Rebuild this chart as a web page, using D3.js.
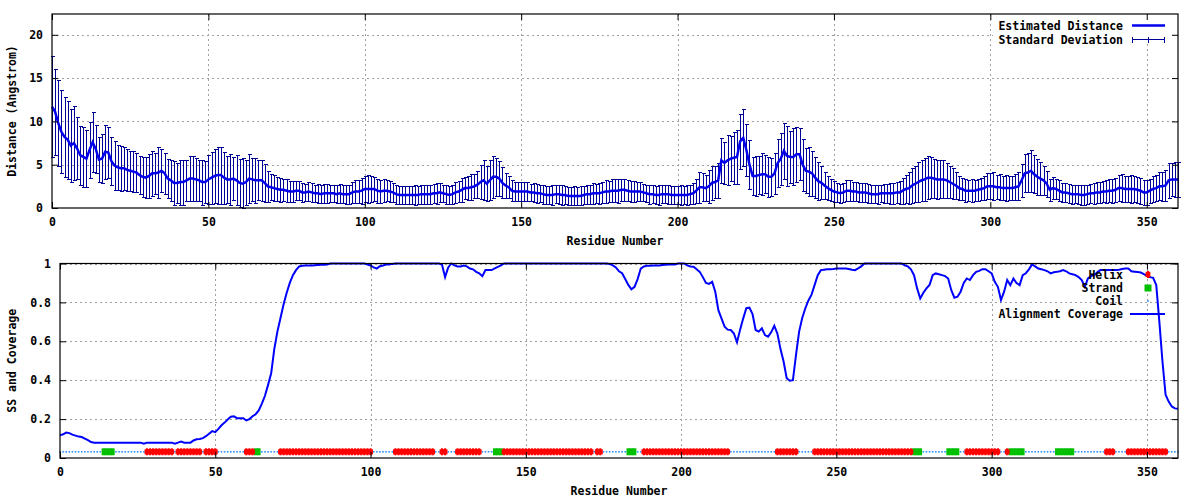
<!DOCTYPE html>
<html>
<head>
<meta charset="utf-8">
<script src="https://d3js.org/d3.v7.min.js"></script>
<style>
body { margin: 0; background: #fff; }
svg text { font-family: "DejaVu Sans Mono", "Liberation Mono", monospace; font-weight: bold; font-size: 11.5px; fill: #000; }
</style>
</head>
<body>
<svg width="1200" height="500"></svg>
<script>
// residue 0..360, mean predicted distance (Angstrom)
var distMean = [
11.7,11.1,9.8,8.8,8.2,7.9,7.2,7.5,6.9,6.1,
5.9,5.7,6.7,7.6,6.8,5.6,5.7,6.5,6.4,5.4,
4.9,4.7,4.6,4.6,4.4,4.3,4.2,4.1,3.8,3.6,
3.5,3.7,4.0,4.0,4.1,4.3,4.0,3.4,3.2,2.9,
2.9,3.0,3.0,3.2,3.4,3.4,3.3,3.2,3.0,3.0,
3.3,3.5,3.7,3.8,3.8,3.5,3.3,3.3,3.4,3.2,
2.9,2.8,3.0,3.4,3.3,3.2,3.2,3.2,2.9,2.5,
2.4,2.3,2.2,2.1,2.1,2.0,1.9,1.9,2.0,2.0,
1.8,1.8,1.9,1.8,1.7,1.7,1.6,1.7,1.7,1.7,
1.7,1.6,1.7,1.6,1.6,1.6,1.8,1.9,1.9,2.0,
2.2,2.2,2.2,2.2,2.0,1.9,2.0,2.0,1.9,1.8,
1.6,1.5,1.5,1.5,1.5,1.5,1.5,1.5,1.6,1.6,
1.6,1.6,1.7,1.7,1.8,1.7,1.6,1.5,1.6,1.8,
1.9,2.1,2.3,2.3,2.4,2.5,2.7,3.0,3.2,2.8,
3.2,3.6,3.6,3.4,2.9,2.6,2.4,2.0,1.9,1.9,
1.9,1.9,1.9,1.8,1.8,1.7,1.7,1.6,1.5,1.5,
1.5,1.6,1.6,1.5,1.5,1.4,1.4,1.4,1.4,1.4,
1.5,1.6,1.6,1.7,1.7,1.7,1.8,1.9,1.9,2.0,
2.0,2.0,2.1,2.1,2.0,1.9,1.9,1.9,1.9,1.8,
1.7,1.6,1.6,1.5,1.5,1.6,1.6,1.6,1.5,1.5,
1.5,1.5,1.5,1.5,1.6,1.7,2.0,2.4,2.4,2.3,
2.5,2.9,3.0,3.2,5.5,5.2,5.5,5.7,5.8,5.9,
7.7,8.1,6.7,5.0,3.7,3.7,3.8,3.9,3.9,3.6,
3.6,4.0,5.2,5.7,6.6,6.0,5.9,5.9,6.2,6.2,
5.0,4.3,4.2,4.0,3.5,3.1,2.9,2.6,2.3,2.1,
1.9,1.8,1.7,1.8,2.0,2.0,1.9,1.9,1.8,1.8,
1.8,1.7,1.6,1.6,1.6,1.7,1.7,1.7,1.7,1.7,
1.8,1.8,2.0,2.2,2.3,2.6,2.8,3.0,3.2,3.3,
3.5,3.5,3.4,3.3,3.3,3.3,3.2,3.0,2.8,2.6,
2.3,2.2,2.0,2.0,2.0,2.0,2.1,2.2,2.3,2.5,
2.5,2.5,2.4,2.4,2.3,2.3,2.3,2.3,2.4,2.5,
3.2,4.0,4.1,4.3,3.9,3.6,3.4,3.2,2.8,2.1,
2.3,2.2,2.0,1.8,1.8,1.7,1.6,1.6,1.6,1.5,
1.5,1.6,1.7,1.7,1.8,1.8,1.9,1.9,2.0,2.0,
2.1,2.3,2.3,2.2,2.2,2.2,2.2,2.1,2.0,1.8,
1.8,2.0,2.2,2.3,2.5,2.5,2.6,3.2,3.3,3.3,
3.3];

// standard deviation per residue
var distSd = [
5.8,5.0,5.0,4.8,4.6,4.5,4.2,4.3,3.6,3.4,
3.5,3.3,3.2,3.5,2.8,2.6,2.8,3.1,2.9,2.8,
2.8,2.6,2.6,2.5,2.4,2.3,2.4,2.3,2.2,2.3,
2.4,2.5,2.6,2.4,2.9,2.5,2.4,2.3,2.4,2.5,
2.3,2.6,2.6,2.4,2.6,2.6,2.5,2.4,2.6,2.4,
2.8,3.0,3.1,3.3,3.3,3.0,2.7,2.9,2.5,2.9,
2.8,3.0,2.6,2.8,2.5,2.6,2.3,2.4,2.2,1.8,
1.5,1.5,1.4,1.4,1.3,1.3,1.2,1.2,1.1,1.1,
1.1,1.0,1.1,1.1,1.0,1.1,1.0,1.1,1.1,1.0,
1.0,1.0,1.1,1.0,1.1,1.1,1.2,1.3,1.3,1.5,
1.5,1.6,1.5,1.4,1.4,1.3,1.3,1.2,1.2,1.1,
1.1,1.0,1.0,1.0,1.0,1.0,1.1,1.0,1.1,1.1,
1.1,1.1,1.1,1.2,1.1,1.0,1.1,1.0,1.1,1.2,
1.2,1.4,1.3,1.4,1.5,1.4,1.6,2.0,2.3,2.0,
2.3,2.4,2.2,2.0,1.8,1.4,1.3,1.2,1.1,1.1,
1.1,1.1,1.1,1.0,1.1,1.1,1.0,1.1,1.0,1.0,
1.1,1.0,1.1,1.1,1.0,1.0,1.0,1.1,1.0,1.1,
1.0,1.1,1.1,1.2,1.1,1.2,1.2,1.3,1.2,1.3,
1.3,1.4,1.3,1.3,1.2,1.2,1.2,1.1,1.1,1.0,
1.0,1.1,1.0,1.0,1.1,1.0,1.0,1.1,1.0,1.0,
1.0,1.1,1.0,1.1,1.1,1.2,1.4,1.8,1.6,1.5,
1.9,2.0,1.9,2.0,2.6,2.4,2.9,2.6,3.0,3.1,
3.2,3.3,3.0,2.8,2.2,2.3,2.2,2.4,2.2,2.3,
2.2,2.4,2.8,3.0,3.2,3.5,3.0,3.3,3.2,3.0,
3.0,2.6,2.8,2.6,2.4,2.2,1.9,1.6,1.4,1.3,
1.2,1.1,1.1,1.1,1.2,1.2,1.1,1.1,1.1,1.1,
1.1,1.1,1.0,1.0,1.1,1.0,1.1,1.1,1.2,1.2,
1.2,1.3,1.5,1.6,1.8,2.0,2.1,2.3,2.4,2.5,
2.5,2.4,2.3,2.3,2.2,2.2,2.0,1.9,1.8,1.6,
1.4,1.3,1.3,1.2,1.3,1.2,1.3,1.3,1.4,1.5,
1.5,1.6,1.4,1.5,1.4,1.5,1.4,1.4,1.5,1.6,
1.9,2.2,2.3,2.4,2.2,2.1,1.9,1.7,1.5,1.3,
1.3,1.2,1.2,1.1,1.1,1.1,1.1,1.0,1.1,1.1,
1.1,1.1,1.1,1.2,1.2,1.2,1.2,1.3,1.3,1.4,
1.4,1.5,1.6,1.5,1.5,1.6,1.5,1.5,1.5,1.4,
1.4,1.4,1.5,1.5,1.6,1.7,1.8,2.0,1.9,2.0,
2.0];

// alignment coverage per residue
var coverage = [
.116,.122,.131,.128,.120,.115,.110,.108,.100,.092,
.082,.079,.079,.079,.079,.079,.079,.079,.079,.079,
.079,.079,.079,.079,.079,.079,.079,.073,.079,.079,
.079,.079,.079,.079,.079,.079,.079,.073,.079,.084,
.079,.079,.079,.090,.096,.098,.102,.112,.125,.138,
.133,.150,.168,.182,.198,.212,.214,.205,.205,.205,
.193,.200,.215,.225,.245,.280,.320,.376,.436,.560,
.650,.720,.790,.850,.900,.940,.966,.985,.988,.990,
.990,.990,.991,.992,.993,.994,.995,1,1,1,
1,1,1,1,1,1,1,1,1,.995,
.990,.980,.974,.986,.990,.995,.995,.998,1,1,
1,1,1,1,1,1,1,1,1,1,
1,1,1,.995,.930,.980,1,.990,.985,.985,
.990,.985,.974,.970,.957,.950,.935,.966,.966,.966,
.975,.983,.990,1,1,1,1,1,1,1,
1,1,1,1,1,1,1,1,1,1,
1,1,1,1,1,1,1,1,1,1,
1,1,1,1,1,1,1,.998,.990,.980,
.960,.950,.920,.890,.867,.880,.920,.974,.985,.988,
.988,.990,.990,.990,.992,.993,.995,.995,.995,1,
1,1,.990,.985,.983,.970,.957,.930,.900,.895,
.906,.855,.760,.718,.675,.660,.658,.640,.595,.660,
.718,.770,.773,.740,.658,.650,.667,.632,.624,.646,
.680,.640,.560,.496,.410,.397,.400,.530,.650,.720,
.770,.810,.840,.890,.940,.966,.968,.970,.971,.972,
.974,.974,.974,.974,.972,.968,.966,.975,.985,1,
1,1,1,1,1,1,1,1,1,1,
1,1,.990,.985,.970,.940,.872,.820,.850,.872,
.890,.940,.949,.945,.940,.935,.923,.863,.824,.829,
.855,.900,.923,.915,.940,.957,.962,.971,.971,.960,
.949,.906,.880,.812,.855,.915,.889,.923,.900,.889,
.940,.950,.970,.995,.985,.974,.970,.966,.960,.949,
.955,.957,.960,.966,.960,.949,.945,.940,.930,.915,
.880,.923,.935,.940,.955,.966,.966,.966,.966,.966,
.966,.968,.972,.974,.974,.960,.958,.956,.954,.945,
.937,.930,.926,.889,.700,.496,.325,.290,.265,.255,
.253];

// secondary structure runs: [type, first residue, last residue]; the rest is coil
var ssSegments = [
["E",14,17],["H",28,36],["H",38,45],["H",47,50],["H",60,62],["E",63,64],
["H",71,100],["H",108,120],["H",123,124],["H",128,135],["E",140,142],
["H",143,171],["H",173,174],["E",183,185],["H",188,215],["H",231,237],
["H",243,274],["E",275,277],["E",286,289],["H",292,302],["H",305,305],
["E",306,310],["E",321,326],["H",337,339],["H",344,356]
];

var residueTicks = [0,50,100,150,200,250,300,350];
var distTicks = [0,5,10,15,20];
var covTicks = [0,0.2,0.4,0.6,0.8,1];

var svg = d3.select("svg");
var residues = d3.range(distMean.length);

var topBox = {left: 52, right: 1178, top: 14, bottom: 208};
var botBox = {left: 60, right: 1178, top: 263.5, bottom: 458};

var x1 = d3.scaleLinear().domain([0, 360]).range([topBox.left, topBox.right]);
var y1 = d3.scaleLinear().domain([0, 22.4]).range([topBox.bottom, topBox.top]);
var x2 = d3.scaleLinear().domain([0, 360]).range([botBox.left, botBox.right]);
var y2 = d3.scaleLinear().domain([0, 1]).range([botBox.bottom, botBox.top]);

function px(v){ return Math.round(v) + 0.5; }

function drawGrid(x, y, box, yTicks){
    var g = svg.append("g")
        .attr("stroke", "#a0a0a0")
        .attr("stroke-width", 1)
        .attr("stroke-dasharray", "2,3")
        .attr("shape-rendering", "crispEdges");
    g.selectAll("line.v").data(residueTicks.filter(function(d){ return d > 0; }))
        .enter().append("line")
        .attr("x1", function(d){ return px(x(d)); })
        .attr("x2", function(d){ return px(x(d)); })
        .attr("y1", box.top).attr("y2", box.bottom);
    g.selectAll("line.h").data(yTicks.filter(function(d){ return d > 0; }))
        .enter().append("line")
        .attr("x1", box.left).attr("x2", box.right)
        .attr("y1", function(d){ return px(y(d)); })
        .attr("y2", function(d){ return px(y(d)); });
}

function drawAxes(x, y, box, yTicks, yFormat, xTitle, yTitle){
    var g = svg.append("g");
    g.append("g").attr("transform", "translate(0," + box.bottom + ")")
        .call(d3.axisBottom(x).tickValues(residueTicks).tickSizeInner(-6).tickSizeOuter(0).tickPadding(10));
    g.append("g").attr("transform", "translate(0," + box.top + ")")
        .call(d3.axisTop(x).tickValues(residueTicks).tickSizeInner(-6).tickSizeOuter(0).tickFormat(""));
    g.append("g").attr("transform", "translate(" + box.left + ",0)")
        .call(d3.axisLeft(y).tickValues(yTicks).tickSizeInner(-6).tickSizeOuter(0).tickPadding(9).tickFormat(yFormat));
    g.append("g").attr("transform", "translate(" + box.right + ",0)")
        .call(d3.axisRight(y).tickValues(yTicks).tickSizeInner(-6).tickSizeOuter(0).tickFormat(""));
    g.selectAll(".domain").remove();
    g.selectAll(".tick line").attr("stroke", "#000");
    g.append("rect")
        .attr("x", box.left).attr("y", box.top)
        .attr("width", box.right - box.left).attr("height", box.bottom - box.top)
        .attr("fill", "none").attr("stroke", "#000").attr("stroke-width", 1.2);
    svg.append("text")
        .attr("x", (box.left + box.right) / 2).attr("y", box.bottom + 33)
        .attr("dy", "0.35em").attr("text-anchor", "middle")
        .text(xTitle);
    svg.append("text")
        .attr("transform", "translate(12," + (box.top + box.bottom) / 2 + ") rotate(-90)")
        .attr("dy", "0.35em").attr("text-anchor", "middle")
        .text(yTitle);
}

// ---- top panel: estimated distance ----
drawGrid(x1, y1, topBox, distTicks);

// key box is opaque in the original
svg.append("rect").attr("x", 993).attr("y", 15).attr("width", 180).attr("height", 29).attr("fill", "#fff");

var bars = svg.append("g").attr("stroke", "#000099").attr("stroke-width", 1)
    .attr("shape-rendering", "crispEdges");
bars.selectAll("line.bar").data(residues).enter().append("line")
    .attr("x1", function(d){ return px(x1(d)); }).attr("x2", function(d){ return px(x1(d)); })
    .attr("y1", function(d){ return y1(Math.max(0, distMean[d] - distSd[d])); })
    .attr("y2", function(d){ return y1(distMean[d] + distSd[d]); });
bars.selectAll("line.capHi").data(residues).enter().append("line")
    .attr("x1", function(d){ return px(x1(d)) - 2; }).attr("x2", function(d){ return px(x1(d)) + 2; })
    .attr("y1", function(d){ return px(y1(distMean[d] + distSd[d])); })
    .attr("y2", function(d){ return px(y1(distMean[d] + distSd[d])); });
bars.selectAll("line.capLo").data(residues).enter().append("line")
    .attr("x1", function(d){ return px(x1(d)) - 2; }).attr("x2", function(d){ return px(x1(d)) + 2; })
    .attr("y1", function(d){ return px(y1(Math.max(0, distMean[d] - distSd[d]))); })
    .attr("y2", function(d){ return px(y1(Math.max(0, distMean[d] - distSd[d]))); });

var meanLine = d3.line()
    .x(function(d){ return x1(d); })
    .y(function(d){ return y1(distMean[d]); });
svg.append("path").datum(residues)
    .attr("d", meanLine)
    .attr("fill", "none").attr("stroke", "#0000ee").attr("stroke-width", 2.5);

drawAxes(x1, y1, topBox, distTicks, d3.format("d"), "Residue Number", "Distance (Angstrom)");

// top key
var key1 = svg.append("g");
key1.append("text").attr("x", 1123).attr("y", 26).attr("dy", "0.35em").attr("text-anchor", "end").text("Estimated Distance");
key1.append("line").attr("x1", 1132).attr("x2", 1165).attr("y1", 25.5).attr("y2", 25.5)
    .attr("stroke", "#0000ee").attr("stroke-width", 2.5);
key1.append("text").attr("x", 1123).attr("y", 39.5).attr("dy", "0.35em").attr("text-anchor", "end").text("Standard Deviation");
var eb = key1.append("g").attr("stroke", "#000099").attr("stroke-width", 1).attr("shape-rendering", "crispEdges");
eb.append("line").attr("x1", 1132).attr("x2", 1165).attr("y1", 39.5).attr("y2", 39.5);
[1132.5, 1148.5, 1164.5].forEach(function(p){
    eb.append("line").attr("x1", p).attr("x2", p).attr("y1", 36.5).attr("y2", 42.5);
});

// ---- bottom panel: secondary structure and coverage ----
drawGrid(x2, y2, botBox, covTicks);

var ssLevel = 0.032;
var ssType = residues.map(function(){ return "C"; });
ssSegments.forEach(function(s){
    for(var r = s[1]; r <= s[2]; r++){ ssType[r] = s[0]; }
});
var yss = y2(ssLevel);

var coil = svg.append("g").attr("fill", "#2a90ff");
coil.selectAll("rect").data(residues.filter(function(d){ return ssType[d] === "C"; }))
    .enter().append("rect")
    .attr("x", function(d){ return x2(d) - 0.8; }).attr("y", yss - 0.8)
    .attr("width", 1.6).attr("height", 1.6);

var strandW = x2(1) - x2(0);
var strand = svg.append("g").attr("fill", "#00c000");
strand.selectAll("rect").data(residues.filter(function(d){ return ssType[d] === "E"; }))
    .enter().append("rect")
    .attr("x", function(d){ return x2(d) - strandW / 2 - 0.3; }).attr("y", yss - 3.5)
    .attr("width", strandW + 0.6).attr("height", 7);

var helixRes = residues.filter(function(d){ return ssType[d] === "H"; });
var helix = svg.append("g").attr("fill", "#ff0000");
helix.selectAll("rect.a").data(helixRes).enter().append("rect")
    .attr("x", function(d){ return x2(d) - 2.4; }).attr("y", yss - 2.5)
    .attr("width", 4.8).attr("height", 5);
helix.selectAll("rect.b").data(helixRes).enter().append("rect")
    .attr("x", function(d){ return x2(d) - 1.1; }).attr("y", yss - 3.5)
    .attr("width", 2.2).attr("height", 7);

var covLine = d3.line()
    .x(function(d){ return x2(d); })
    .y(function(d){ return y2(coverage[d]); });
svg.append("path").datum(residues)
    .attr("d", covLine)
    .attr("fill", "none").attr("stroke", "#0000ff").attr("stroke-width", 2);

drawAxes(x2, y2, botBox, covTicks, function(d){ return String(d); }, "Residue Number", "SS and Coverage");

// bottom key
var key2 = svg.append("g");
var keyRows = [["Helix", 275], ["Strand", 288], ["Coil", 301], ["Alignment Coverage", 314]];
key2.selectAll("text").data(keyRows).enter().append("text")
    .attr("x", 1123).attr("y", function(d){ return d[1]; })
    .attr("dy", "0.35em").attr("text-anchor", "end")
    .text(function(d){ return d[0]; });
key2.append("rect").attr("x", 1145.6).attr("y", 272).attr("width", 4.8).attr("height", 5).attr("fill", "#ff0000");
key2.append("rect").attr("x", 1146.9).attr("y", 271).attr("width", 2.2).attr("height", 7).attr("fill", "#ff0000");
key2.append("rect").attr("x", 1144.5).attr("y", 284.5).attr("width", 7).attr("height", 7).attr("fill", "#00c000");
key2.append("rect").attr("x", 1147.2).attr("y", 300.2).attr("width", 1.6).attr("height", 1.6).attr("fill", "#2a90ff");
key2.append("line").attr("x1", 1130).attr("x2", 1165).attr("y1", 314).attr("y2", 314)
    .attr("stroke", "#0000ff").attr("stroke-width", 2);
</script>
</body>
</html>
